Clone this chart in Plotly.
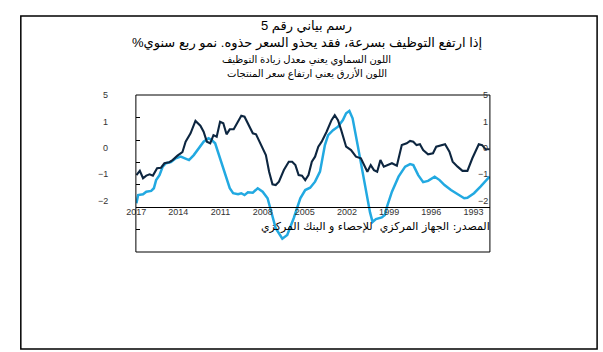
import plotly.graph_objects as go

# ---- data ----
light_years = [2016.98, 2016.86, 2016.51, 2016.28, 2015.93, 2015.74, 2015.58, 2015.34, 2015.11, 2014.88,
               2014.53, 2014.18, 2013.83, 2013.59, 2013.24, 2012.90, 2012.55, 2012.20, 2011.85, 2011.62,
               2011.38, 2011.03, 2010.69, 2010.34, 2010.10, 2009.75, 2009.52, 2009.29, 2009.05, 2008.70,
               2008.35, 2008.00, 2007.65, 2007.42, 2007.07, 2006.60, 2006.25, 2005.79, 2005.32, 2004.97,
               2004.62, 2004.27, 2003.92, 2003.57, 2003.34, 2002.99, 2002.64, 2002.29, 2002.06, 2001.83,
               2001.60, 2001.24, 2000.90, 2000.55, 2000.36, 2000.18, 1999.94, 1999.52, 1999.31, 1999.15,
               1998.80, 1998.33, 1997.86, 1997.51, 1997.28, 1996.93, 1996.58, 1996.23, 1995.76, 1995.41,
               1995.06, 1994.60, 1994.13, 1993.66, 1993.43, 1992.96, 1992.50, 1992.03, 1991.85]
light_values = [-2.10, -1.79, -1.76, -1.66, -1.63, -1.53, -1.22, -1.03, -0.71, -0.58,
                -0.54, -0.39, -0.33, -0.39, -0.46, -0.27, -0.01, 0.24, 0.37, 0.30,
                0.18, -0.39, -1.03, -1.53, -1.72, -1.76, -1.72, -1.79, -1.68, -1.70,
                -1.53, -1.66, -1.91, -2.36, -3.05, -3.45, -3.31, -2.67, -1.91, -1.60,
                -1.51, -1.28, -0.90, 0.11, 0.49, 0.68, 0.81, 1.06, 1.32, 1.41,
                1.13, 0.11, -0.90, -1.79, -2.45, -2.81, -2.70, -2.64, -2.55, -2.23,
                -1.66, -1.09, -0.71, -0.61, -0.65, -1.03, -1.30, -1.25, -1.09, -1.22,
                -1.41, -1.60, -1.76, -1.91, -1.89, -1.72, -1.47, -1.22, -1.09]

dark_years = [2016.98, 2016.74, 2016.51, 2016.28, 2016.04, 2015.81, 2015.51, 2015.23, 2014.99, 2014.64,
              2014.41, 2014.06, 2013.71, 2013.48, 2013.13, 2012.78, 2012.43, 2012.20, 2011.97, 2011.73,
              2011.50, 2011.27, 2011.03, 2010.80, 2010.57, 2010.34, 2010.06, 2009.75, 2009.52, 2009.29,
              2008.98, 2008.70, 2008.47, 2008.12, 2007.77, 2007.54, 2007.30, 2007.07, 2006.84, 2006.49,
              2006.14, 2005.90, 2005.67, 2005.44, 2005.20, 2004.97, 2004.74, 2004.50, 2004.27, 2004.04,
              2003.80, 2003.45, 2003.10, 2002.87, 2002.64, 2002.41, 2002.06, 2001.71, 2001.36, 2001.01,
              2000.78, 2000.55, 2000.31, 2000.08, 1999.85, 1999.62, 1999.38, 1999.15, 1998.80, 1998.45,
              1998.10, 1997.75, 1997.51, 1997.28, 1997.05, 1996.81, 1996.58, 1996.23, 1995.88, 1995.65,
              1995.30, 1995.02, 1994.71, 1994.48, 1994.13, 1993.78, 1993.43, 1993.08, 1992.62, 1992.38,
              1992.15, 1991.85]
dark_values = [-1.03, -0.87, -1.15, -1.05, -1.00, -1.05, -0.77, -0.75, -0.58, -0.54,
               -0.46, -0.29, -0.16, 0.24, 0.56, 1.03, 0.85, 0.62, 0.24, 0.18,
               0.49, 0.43, 1.00, 0.94, 0.52, 0.71, 0.71, 1.00, 1.23, 1.19,
               0.87, 0.56, 0.52, 0.11, -0.27, -0.90, -1.38, -1.41, -1.28, -0.84,
               -0.52, -0.52, -0.65, -1.03, -1.05, -1.22, -1.03, -0.52, -0.33, 0.05,
               0.24, 0.62, 1.06, 1.25, 1.06, 0.68, 0.05, -0.08, -0.33, -0.39,
               -0.65, -0.90, -0.65, -0.84, -0.90, -0.46, -0.71, -0.65, -0.58, -0.67,
               0.11, 0.18, 0.27, 0.24, 0.11, 0.14, -0.08, -0.24, -0.20, 0.05,
               0.09, 0.14, -0.14, -0.52, -0.71, -0.87, -0.87, -0.39, 0.14, 0.11,
               -0.04, -0.05]

x_tick_years = [2017, 2014, 2011, 2008, 2005, 2002, 1999, 1996, 1993]
x_tick_labels = ["2017", "2014", "2011", "2008", "2005", "2002", "1999", "1996", "1993"]
y_label_values = [2.0, 1, 0, -1, -2]
y_label_texts = ["5", "1", "0", "\u22121", "\u22122"]
y_tick_marks = [1.152, 0.304, -0.544, -1.392, -3.087]

title_lines = [
    "رسم بياني رقم 5",
    "إذا ارتفع التوظيف بسرعة، فقد يحذو السعر حذوه. نمو ربع سنوي%\u200f",
    "اللون السماوي يعني معدل زيادة التوظيف",
    "اللون الأزرق يعني ارتفاع سعر المنتجات",
]
source_text = "المصدر: الجهاز المركزي  للإحصاء و البنك المركزي"

# ---- layout helpers ----
W, H = 603, 352
def px(x):
    return x / W
def py(y):
    return 1 - y / H

DARK = "#0d2640"
LIGHT = "#22a9e1"
FONT = "Liberation Sans, DejaVu Sans, sans-serif"

fig = go.Figure()
fig.add_trace(go.Scatter(x=light_years, y=light_values, mode="lines",
                         line=dict(color=LIGHT, width=2.5), hoverinfo="skip"))
fig.add_trace(go.Scatter(x=dark_years, y=dark_values, mode="lines",
                         line=dict(color=DARK, width=2.1), hoverinfo="skip"))

fig.update_layout(
    width=W, height=H,
    margin=dict(l=0, r=0, t=0, b=0),
    paper_bgcolor="white", plot_bgcolor="rgba(0,0,0,0)",
    showlegend=False,
    xaxis=dict(domain=[px(128), px(488)], range=[2017.02, 1991.83],
               anchor="free", position=py(207),
               showline=True, linecolor="black", linewidth=1,
               showgrid=False, zeroline=False, ticks="",
               tickmode="array", tickvals=x_tick_years, ticktext=x_tick_labels,
               tickfont=dict(family=FONT, size=9, color="#333333"), ticklabelstandoff=-4),
    yaxis=dict(domain=[py(252), py(95)], range=[-3.954, 2.015],
               showline=False, showgrid=False, zeroline=False,
               ticks="inside", ticklen=4, tickcolor="black", tickwidth=1,
               tickmode="array", tickvals=y_tick_marks, showticklabels=False),
)

shapes = [
    dict(type="rect", xref="paper", yref="paper", x0=px(11), x1=px(597), y0=py(349), y1=py(16),
         line=dict(color="black", width=1.5)),
    dict(type="rect", xref="paper", yref="paper", x0=px(128), x1=px(488), y0=py(252), y1=py(95),
         line=dict(color="black", width=1)),
]
fig.update_layout(shapes=shapes)

ann = []
title_y = [26, 43, 60, 73]
title_sizes = [13, 13, 10, 10]
for txt, yy, sz in zip(title_lines, title_y, title_sizes):
    ann.append(dict(text=txt, xref="paper", yref="paper", x=px(302), y=py(yy),
                    xanchor="center", yanchor="middle", showarrow=False,
                    font=dict(family=FONT, size=sz, color="black")))
for v, t in zip(y_label_values, y_label_texts):
    ann.append(dict(text=t, xref="paper", yref="y", x=px(102), y=v,
                    xanchor="right", yanchor="middle", showarrow=False,
                    font=dict(family=FONT, size=9, color="#333333")))
    ann.append(dict(text=t, xref="paper", yref="y", x=px(488), y=v,
                    xanchor="right", yanchor="middle", showarrow=False,
                    font=dict(family=FONT, size=9, color="#333333")))
ann.append(dict(text=source_text, xref="paper", yref="paper", x=px(490), y=py(226),
                xanchor="right", yanchor="middle", showarrow=False,
                font=dict(family="DejaVu Sans, serif", size=11, color="black")))
fig.update_layout(annotations=ann)

fig.write_html("out.html")
